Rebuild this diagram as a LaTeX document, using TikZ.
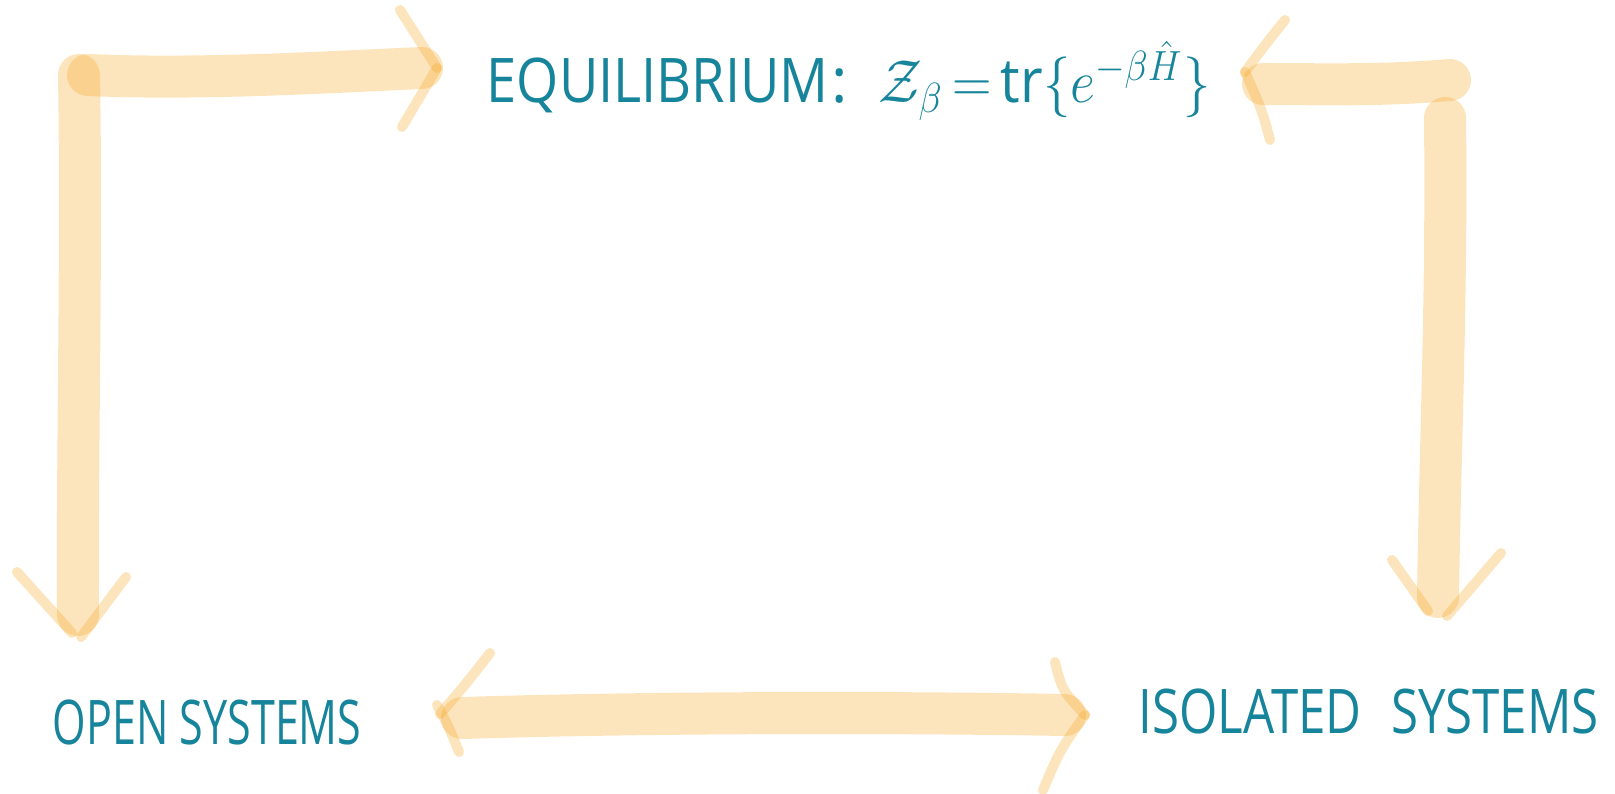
\documentclass[tikz,border=0pt]{standalone}
\usepackage{fontspec}
\setmainfont{Open Sans}
\definecolor{Ink_Teal}{HTML}{16849B}
\definecolor{Marker_Orange}{HTML}{F6A623}
\newcommand{\handtext}[2][0.7]{\scalebox{#1}[1]{#2}}

\begin{document}
\begin{tikzpicture}[x=0.01cm, y=-0.01cm,
    marker/.style={line width=0.42cm, line cap=round, Marker_Orange, opacity=0.3},
    barb/.style={line width=0.1cm, line cap=round, Marker_Orange, opacity=0.3},
    handlabel/.style={text=Ink_Teal, font=\fontsize{17.5}{20}\selectfont, inner sep=0pt}]
    \useasboundingbox (0,0) rectangle (1615,794);

    % Labels
    \node[handlabel, anchor=base west] (eq) at (486,103)
        {\handtext[0.88]{EQUILIBRIUM}\hspace{0.05em}:\hspace{0.5em}\handtext[0.9]{$\mathcal{Z}_\beta\,{=}\,\mathrm{tr}\{e^{-\beta\hat{H}}\}$}};
    \node[handlabel, anchor=base west] (open) at (52,744) {\handtext{OPEN SYSTEMS}};
    \node[handlabel, anchor=base west] (iso) at (1138,733) {\handtext[0.8]{ISOLATED\hspace{0.6em}SYSTEMS}};

    % Corners and arrow tips
    \coordinate (cornerTL) at (79,75);
    \coordinate (cornerTR) at (1450,80);
    \coordinate (tipEqL) at (437,68);
    \coordinate (tipEqR) at (1245,72);
    \coordinate (tipOpenT) at (78,636);
    \coordinate (tipIsoT) at (1438,617);
    \coordinate (tipOpenR) at (440,714);
    \coordinate (tipIsoL) at (1085,715);

    % Top left: corner to equilibrium and down to open systems
    \draw[marker] ([xshift=0.09cm]cornerTL) .. controls (200,80) and (330,72) .. ([xshift=-0.15cm]tipEqL);
    \draw[marker] (cornerTL) .. controls (82,250) and (77,450) .. ([yshift=0.21cm]tipOpenT);
    \draw[barb] (400,10) -- (tipEqL);
    \draw[barb] (402,127) -- (tipEqL);
    \draw[barb] (17,572) -- (72,633);
    \draw[barb] (126,577) -- (81,637);

    % Top right: corner to equilibrium and down to isolated systems
    \draw[marker] (cornerTR) .. controls (1380,86) and (1320,84) .. ([xshift=0.18cm,yshift=-0.12cm]tipEqR);
    \draw[marker] (1445,118) .. controls (1447,300) and (1440,450) .. ([yshift=0.2cm]tipIsoT);
    \draw[barb] (1285,20) .. controls (1265,45) .. (tipEqR);
    \draw[barb] (1270,140) .. controls (1262,110) .. (tipEqR);
    \draw[barb] (1392,560) -- (1428,611);
    \draw[barb] (1501,553) -- (1447,616);

    % Bottom: open systems and isolated systems
    \draw[marker] ([xshift=0.22cm,yshift=-0.04cm]tipOpenR) .. controls (650,712) and (900,712) .. ([xshift=-0.2cm]tipIsoL);
    \draw[barb] (490,653) .. controls (465,685) .. (tipOpenR);
    \draw[barb] (459,752) .. controls (448,725) .. (437,705);
    \draw[barb] (1055,662) .. controls (1062,690) .. (tipIsoL);
    \draw[barb] (1043,790) .. controls (1060,750) .. (tipIsoL);

\end{tikzpicture}
\end{document}
